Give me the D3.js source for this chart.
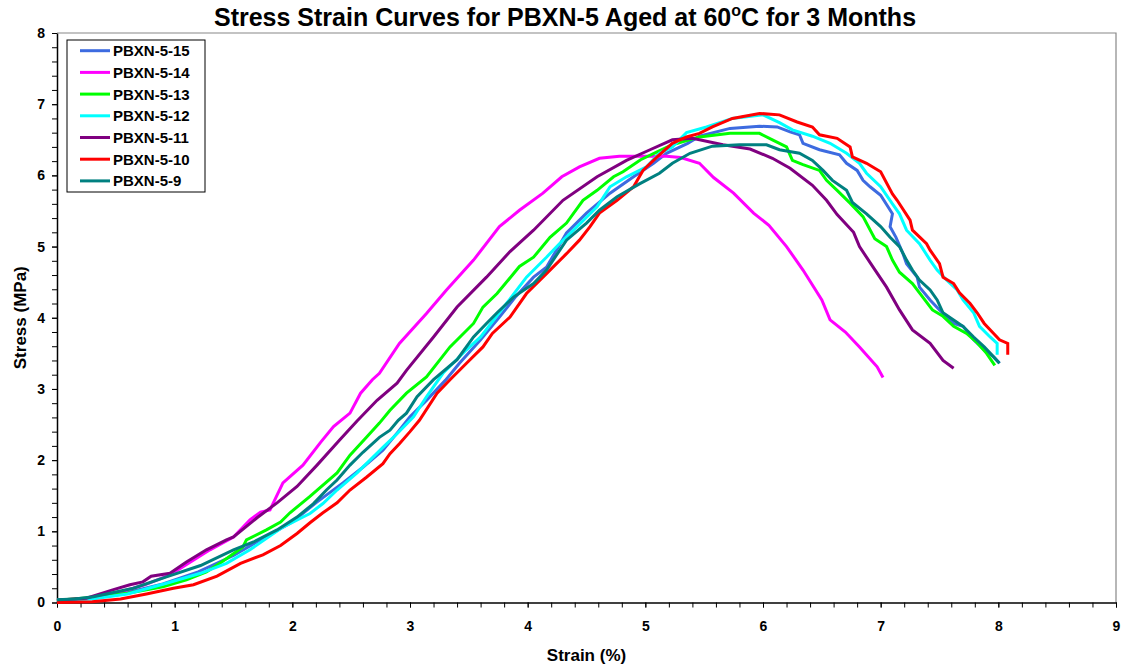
<!DOCTYPE html>
<html>
<head>
<meta charset="utf-8">
<script src="https://cdn.jsdelivr.net/npm/d3@7"></script>
<style>
    body { margin: 0; background: #ffffff; }
    svg { font-family: Arial, "Liberation Sans", sans-serif; font-weight: bold; }
    .tick text { font-size: 14px; font-weight: bold; }
</style>
</head>
<body>
<svg width="1124" height="668"></svg>
<script>
// Sample names and colours, in legend order
const samples = ['PBXN-5-15', 'PBXN-5-14', 'PBXN-5-13', 'PBXN-5-12', 'PBXN-5-11', 'PBXN-5-10', 'PBXN-5-9'];
const colors = ['#3d6be0', '#ff00ff', '#00ff00', '#00ffff', '#800080', '#ff0000', '#008080'];

// Each curve: [strain (%), stress (MPa)] pairs
const pbxn15 = [[0,0.03],[0.3,0.06],[0.6,0.14],[0.9,0.26],[1.2,0.43],[1.5,0.66],[1.75,0.9],[2.0,1.13],[2.2,1.4],[2.43,1.68],[2.6,1.9],[2.77,2.14],[2.9,2.4],[3.0,2.61],[3.14,2.84],[3.3,3.12],[3.42,3.36],[3.6,3.69],[3.76,4.01],[3.9,4.3],[4.05,4.57],[4.16,4.71],[4.33,5.19],[4.5,5.47],[4.7,5.75],[4.9,5.98],[5.07,6.17],[5.18,6.31],[5.36,6.45],[5.46,6.55],[5.72,6.66],[5.97,6.69],[6.12,6.68],[6.23,6.61],[6.31,6.57],[6.34,6.45],[6.48,6.36],[6.65,6.29],[6.71,6.17],[6.8,6.07],[6.85,5.93],[6.91,5.84],[7.0,5.72],[7.1,5.46],[7.08,5.28],[7.13,5.13],[7.19,4.9],[7.22,4.76],[7.31,4.57],[7.33,4.43],[7.42,4.25],[7.5,4.11],[7.62,3.92],[7.7,3.88],[7.79,3.69],[7.88,3.55],[7.96,3.45],[8.01,3.36]];
const pbxn14 = [[0,0.03],[0.25,0.06],[0.5,0.13],[0.75,0.25],[0.95,0.38],[1.0,0.43],[1.3,0.74],[1.5,0.92],[1.64,1.16],[1.73,1.27],[1.81,1.3],[1.92,1.68],[2.09,1.93],[2.24,2.25],[2.35,2.47],[2.49,2.66],[2.58,2.94],[2.68,3.13],[2.74,3.22],[2.91,3.64],[3.14,4.06],[3.31,4.39],[3.54,4.81],[3.76,5.28],[3.93,5.51],[4.13,5.75],[4.29,5.98],[4.44,6.12],[4.61,6.24],[4.78,6.27],[5.18,6.27],[5.3,6.25],[5.46,6.17],[5.58,5.97],[5.75,5.75],[5.92,5.47],[6.05,5.3],[6.2,5.0],[6.34,4.67],[6.5,4.25],[6.57,3.97],[6.7,3.8],[6.82,3.59],[6.97,3.31],[7.02,3.16]];
const pbxn13 = [[0,0.03],[0.3,0.07],[0.6,0.13],[0.9,0.22],[1.1,0.32],[1.27,0.43],[1.4,0.57],[1.58,0.78],[1.61,0.88],[1.78,1.02],[1.9,1.13],[1.98,1.26],[2.15,1.49],[2.38,1.82],[2.49,2.07],[2.63,2.32],[2.74,2.52],[2.83,2.7],[2.97,2.94],[3.14,3.17],[3.34,3.59],[3.54,3.92],[3.62,4.15],[3.74,4.34],[3.93,4.72],[4.05,4.85],[4.19,5.13],[4.33,5.33],[4.47,5.65],[4.59,5.79],[4.73,5.98],[4.81,6.05],[4.96,6.22],[5.1,6.33],[5.23,6.43],[5.46,6.54],[5.72,6.59],[5.97,6.59],[6.08,6.5],[6.2,6.4],[6.25,6.21],[6.34,6.15],[6.48,6.07],[6.54,5.93],[6.63,5.79],[6.74,5.61],[6.85,5.42],[6.95,5.11],[7.05,5.0],[7.1,4.81],[7.16,4.64],[7.27,4.48],[7.33,4.35],[7.44,4.11],[7.53,4.02],[7.62,3.88],[7.73,3.78],[7.82,3.65],[7.9,3.5],[7.97,3.33]];
const pbxn12 = [[0,0.03],[0.3,0.05],[0.6,0.12],[0.93,0.27],[1.22,0.41],[1.44,0.55],[1.64,0.74],[1.92,1.06],[2.15,1.25],[2.26,1.39],[2.38,1.58],[2.55,1.82],[2.66,2.0],[2.77,2.18],[2.89,2.37],[3.03,2.61],[3.14,2.89],[3.28,3.22],[3.48,3.55],[3.6,3.73],[3.82,4.2],[3.99,4.57],[4.16,4.85],[4.27,5.04],[4.42,5.28],[4.59,5.56],[4.7,5.84],[4.84,5.98],[5.01,6.12],[5.12,6.31],[5.23,6.4],[5.35,6.6],[5.52,6.68],[5.74,6.8],[6.0,6.85],[6.14,6.74],[6.25,6.64],[6.42,6.55],[6.57,6.45],[6.71,6.31],[6.82,6.17],[6.88,6.03],[7.0,5.84],[7.1,5.6],[7.16,5.46],[7.22,5.23],[7.33,5.04],[7.42,4.81],[7.48,4.67],[7.56,4.53],[7.65,4.39],[7.7,4.25],[7.79,4.07],[7.84,3.88],[7.93,3.73],[7.99,3.64],[7.99,3.48]];
const pbxn11 = [[0,0.03],[0.25,0.06],[0.48,0.18],[0.62,0.25],[0.73,0.29],[0.8,0.37],[0.96,0.41],[1.1,0.57],[1.27,0.74],[1.44,0.88],[1.5,0.92],[1.7,1.19],[1.87,1.4],[2.04,1.63],[2.21,1.93],[2.4,2.28],[2.55,2.55],[2.72,2.84],[2.89,3.08],[2.97,3.26],[3.2,3.73],[3.4,4.15],[3.65,4.57],[3.85,4.93],[4.05,5.23],[4.3,5.65],[4.59,5.98],[4.84,6.21],[5.04,6.36],[5.23,6.5],[5.4,6.52],[5.66,6.43],[5.89,6.37],[6.08,6.24],[6.23,6.1],[6.42,5.86],[6.54,5.65],[6.63,5.45],[6.77,5.2],[6.82,5.0],[6.94,4.7],[7.05,4.43],[7.16,4.11],[7.27,3.83],[7.42,3.64],[7.53,3.4],[7.62,3.29]];
const pbxn10 = [[0,0.0],[0.3,0.01],[0.54,0.05],[0.76,0.12],[0.99,0.2],[1.16,0.25],[1.36,0.37],[1.56,0.55],[1.75,0.67],[1.9,0.8],[2.04,0.97],[2.15,1.12],[2.26,1.26],[2.38,1.4],[2.49,1.58],[2.63,1.76],[2.77,1.95],[2.83,2.09],[2.91,2.23],[3.0,2.4],[3.08,2.56],[3.23,2.94],[3.34,3.13],[3.48,3.36],[3.62,3.59],[3.7,3.78],[3.85,4.01],[3.99,4.34],[4.16,4.62],[4.33,4.9],[4.44,5.09],[4.53,5.28],[4.61,5.47],[4.76,5.65],[4.9,5.84],[4.98,6.07],[5.1,6.26],[5.23,6.45],[5.35,6.54],[5.46,6.59],[5.57,6.68],[5.74,6.8],[5.97,6.87],[6.14,6.85],[6.29,6.75],[6.42,6.68],[6.48,6.57],[6.63,6.52],[6.74,6.4],[6.76,6.26],[6.88,6.17],[7.0,6.05],[7.1,5.74],[7.14,5.65],[7.25,5.37],[7.27,5.23],[7.39,5.04],[7.42,4.95],[7.5,4.76],[7.53,4.57],[7.62,4.48],[7.67,4.35],[7.76,4.2],[7.82,4.07],[7.88,3.92],[7.96,3.78],[8.01,3.69],[8.08,3.64],[8.08,3.48]];
const pbxn9 = [[0,0.04],[0.15,0.05],[0.31,0.08],[0.65,0.2],[0.93,0.36],[1.22,0.52],[1.5,0.74],[1.67,0.85],[1.87,1.02],[2.04,1.2],[2.18,1.39],[2.29,1.58],[2.38,1.72],[2.49,1.93],[2.6,2.11],[2.74,2.32],[2.83,2.42],[2.9,2.56],[2.97,2.66],[3.06,2.89],[3.2,3.13],[3.4,3.41],[3.54,3.73],[3.65,3.92],[3.74,4.07],[3.88,4.29],[4.05,4.48],[4.16,4.67],[4.33,5.09],[4.5,5.33],[4.61,5.51],[4.76,5.7],[4.95,5.88],[5.12,6.03],[5.23,6.17],[5.38,6.31],[5.57,6.41],[5.8,6.43],[6.03,6.43],[6.14,6.36],[6.31,6.31],[6.42,6.21],[6.51,6.07],[6.59,5.93],[6.71,5.79],[6.76,5.62],[6.88,5.46],[7.0,5.28],[7.08,5.13],[7.16,5.0],[7.22,4.81],[7.27,4.67],[7.33,4.53],[7.42,4.39],[7.48,4.25],[7.53,4.07],[7.62,3.97],[7.7,3.88],[7.79,3.73],[7.88,3.59],[7.96,3.45],[8.01,3.36]];

const curves = [pbxn15, pbxn14, pbxn13, pbxn12, pbxn11, pbxn10, pbxn9];

const xTicks = d3.range(0, 10, 1);
const yTicks = d3.range(0, 9, 1);

const svg = d3.select('svg');
const plotLeft = 57, plotRight = 1116, plotTop = 33, plotBottom = 602.5;

const x = d3.scaleLinear().domain([0, 9]).range([plotLeft, plotRight]);
const y = d3.scaleLinear().domain([0, 8]).range([plotBottom, plotTop]);

// Plot frame (grey on top and right, axes draw the rest)
svg.append('path')
    .attr('d', `M${plotLeft},${plotTop}H${plotRight}V${plotBottom}`)
    .attr('fill', 'none')
    .attr('stroke', '#888888')
    .attr('stroke-width', 1.2);

// Minor ticks every 0.2
const minorX = d3.range(0, 9.001, 0.2).map(v => +v.toFixed(1));
const minorY = d3.range(0, 8.001, 0.2).map(v => +v.toFixed(1));

svg.append('g')
    .attr('transform', `translate(0,${plotBottom})`)
    .call(d3.axisBottom(x).tickValues(minorX).tickSize(5).tickFormat(''))
    .call(g => g.select('.domain').remove());

svg.append('g')
    .attr('transform', `translate(${plotLeft},0)`)
    .call(d3.axisLeft(y).tickValues(minorY).tickSize(5).tickFormat(''))
    .call(g => g.select('.domain').remove());

const xAxis = svg.append('g')
    .attr('transform', `translate(0,${plotBottom})`)
    .call(d3.axisBottom(x).tickValues(xTicks).tickSize(5).tickPadding(14).tickSizeOuter(0));

const yAxis = svg.append('g')
    .attr('transform', `translate(${plotLeft},0)`)
    .call(d3.axisLeft(y).tickValues(yTicks).tickSize(5).tickPadding(7).tickSizeOuter(0));

[xAxis, yAxis].forEach(a => {
    a.select('.domain').attr('stroke-width', 1.5);
    a.selectAll('text').attr('fill', '#000');
});

// Curves
const line = d3.line()
    .x(d => x(d[0]))
    .y(d => y(d[1]));

svg.append('g')
    .selectAll('path')
    .data(curves)
    .enter().append('path')
    .attr('d', line)
    .attr('fill', 'none')
    .attr('stroke', (d, i) => colors[i])
    .attr('stroke-width', 3)
    .attr('stroke-linejoin', 'miter');

// Legend
const legend = svg.append('g').attr('transform', 'translate(67,40)');
legend.append('rect')
    .attr('width', 138)
    .attr('height', 152)
    .attr('fill', '#fff')
    .attr('stroke', '#000')
    .attr('stroke-width', 1);

const rows = legend.selectAll('g.row')
    .data(samples)
    .enter().append('g')
    .attr('class', 'row')
    .attr('transform', (d, i) => `translate(0,${10.7 + i * 21.7})`);

rows.append('line')
    .attr('x1', 13).attr('x2', 43)
    .attr('stroke', (d, i) => colors[i])
    .attr('stroke-width', 3);

rows.append('text')
    .attr('x', 46)
    .attr('dy', '0.36em')
    .style('font-size', '15px')
    .text(d => d);

// Title
const title = svg.append('text')
    .attr('x', 565)
    .attr('y', 26)
    .attr('text-anchor', 'middle')
    .style('font-size', '25px')
    .text('Stress Strain Curves for PBXN-5 Aged at 60');
title.append('tspan')
    .attr('dy', -10)
    .style('font-size', '16px')
    .text('o');
title.append('tspan')
    .attr('dy', 10)
    .text('C for 3 Months');

// Axis titles
svg.append('text')
    .attr('x', (plotLeft + plotRight) / 2)
    .attr('y', 661)
    .attr('text-anchor', 'middle')
    .style('font-size', '17px')
    .text('Strain (%)');

svg.append('text')
    .attr('transform', `translate(26,${(plotTop + plotBottom) / 2}) rotate(-90)`)
    .attr('text-anchor', 'middle')
    .style('font-size', '17px')
    .text('Stress (MPa)');
</script>
</body>
</html>
